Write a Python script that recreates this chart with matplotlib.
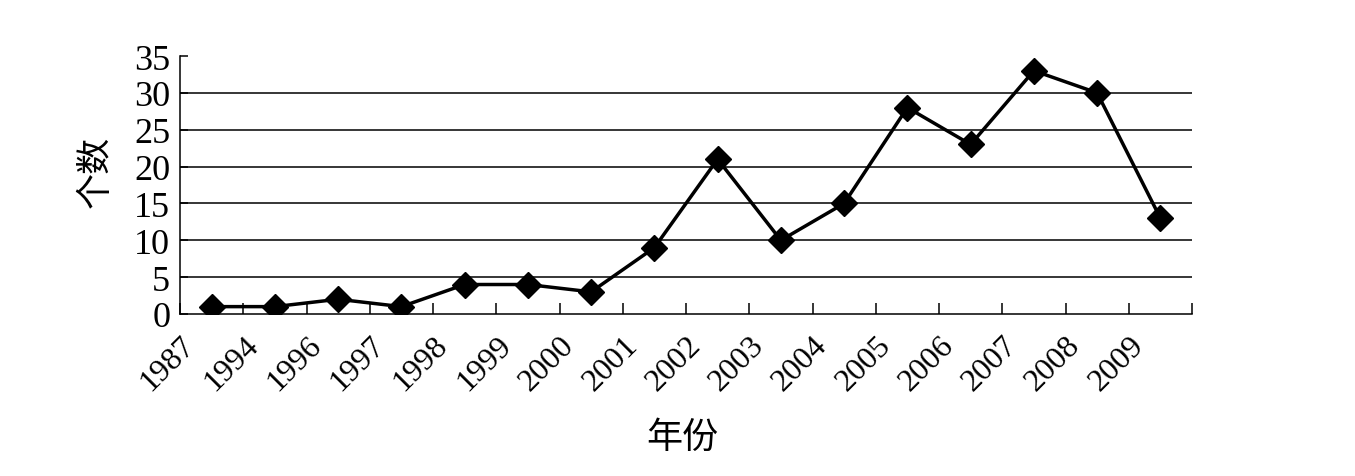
import matplotlib
matplotlib.use("Agg")
import matplotlib.pyplot as plt
import numpy as np

years = ["1987", "1994", "1996", "1997", "1998", "1999", "2000", "2001",
         "2002", "2003", "2004", "2005", "2006", "2007", "2008", "2009"]
counts = [1, 1, 2, 1, 4, 4, 3, 9, 21, 10, 15, 28, 23, 33, 30, 13]
yticks = [0, 5, 10, 15, 20, 25, 30, 35]

serif = ["Liberation Serif", "Noto Sans CJK SC"]
cjk = ["Noto Sans CJK SC", "DejaVu Sans"]

fig = plt.figure(figsize=(13.55, 4.77), dpi=100)
ax = fig.add_axes([180/1355, 1-315/477, (1192-180)/1355, (315-57)/477])

x = np.arange(len(years))
ax.plot(x, counts, color="black", linewidth=2.5, marker="D", markersize=13,
        markerfacecolor="black", markeredgecolor="black", zorder=3)

ax.set_yticks(yticks)
ax.set_yticklabels([str(v) for v in yticks], fontfamily=serif, fontsize=26)
for v in yticks[1:-1]:
    ax.axhline(v, color="black", linewidth=1.1, zorder=1)

bounds = np.arange(len(years) + 1) - 0.5
ax.set_xticks(bounds)
ax.set_xticklabels([""] * len(bounds))
ax.set_xticks(bounds[:-1] + 0.005, minor=True)
ax.set_xticklabels(years, minor=True, rotation=45, ha="right", va="top",
                   rotation_mode="anchor", fontfamily=serif, fontsize=23)
ax.tick_params(axis="x", which="minor", length=0, pad=12)
ax.tick_params(axis="x", which="major", direction="in", length=8, width=1.1)
ax.tick_params(axis="y", direction="in", length=6, width=1.1, pad=7)

ax.set_xlim(-0.5, len(years) - 0.5)
ax.set_ylim(0, 35)

for s in ["top", "right"]:
    ax.spines[s].set_visible(False)
for s in ["left", "bottom"]:
    ax.spines[s].set_linewidth(1.1)

fig.text(96/1355, 1-172/477, "个数", rotation=90, ha="center", va="center",
         fontfamily=cjk, fontsize=26)
fig.text(682/1355, 1-438/477, "年份", ha="center", va="center",
         fontfamily=cjk, fontsize=26)

fig.savefig("out.png", dpi=100)
